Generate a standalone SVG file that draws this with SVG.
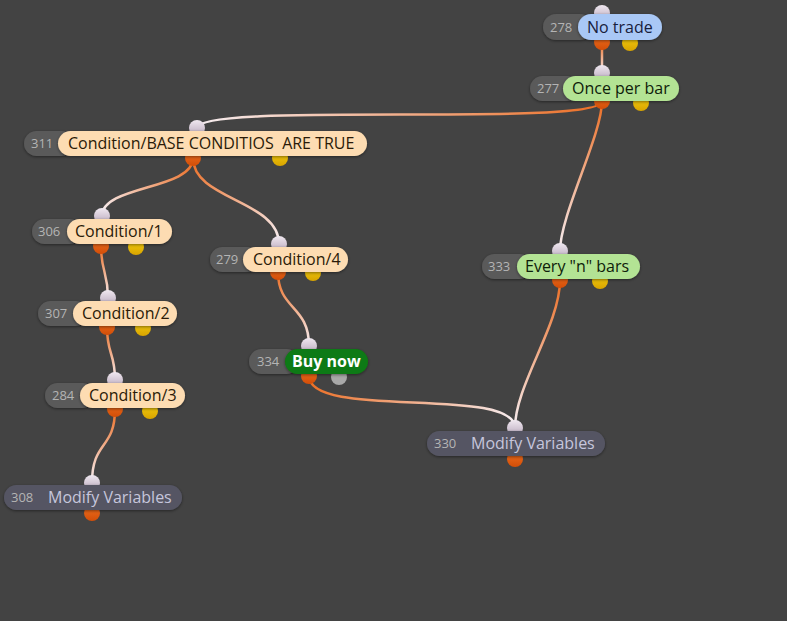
<svg xmlns="http://www.w3.org/2000/svg" width="787" height="621" viewBox="0 0 787 621">
<defs>
<style>
.num{fill:#5a5a5a}
.numt{font-family:"Open Sans","DejaVu Sans",sans-serif;font-size:13px;fill:#b4b4b4}
.labt{font-family:"Open Sans","DejaVu Sans",sans-serif;font-size:16px;white-space:pre}
.cond{fill:#fddcb2}
.condt{fill:#2a1a08}
.blue{fill:#a9c8f6}
.bluet{fill:#18203c}
.green{fill:#b3e394}
.greent{fill:#0e200a}
.buy{fill:#0b7a12}
.buyt{fill:#ffffff;font-weight:bold;font-size:16px}
.mod{fill:#555563}
.modt{fill:#c6c6dc}
.pin{fill:url(#gin)}
.pout{fill:url(#gout)}
.pyel{fill:url(#gyel)}
.pgry{fill:#a8a8a8}
.edge{fill:none;stroke-width:2.5}
.sh{filter:url(#shadow)}
</style>
<filter id="shadow" x="-10%" y="-40%" width="120%" height="180%">
<feDropShadow dx="0" dy="1" stdDeviation="1.5" flood-color="#000" flood-opacity="0.45"/>
</filter>
<linearGradient id="gin" x1="0" y1="0" x2="0" y2="1"><stop offset="0" stop-color="#f0e8f0"/><stop offset="1" stop-color="#b8a8bc"/></linearGradient>
<linearGradient id="gout" x1="0" y1="0" x2="0" y2="1"><stop offset="0" stop-color="#f07020"/><stop offset="1" stop-color="#d24e08"/></linearGradient>
<linearGradient id="gyel" x1="0" y1="0" x2="0" y2="1"><stop offset="0" stop-color="#f6d010"/><stop offset="1" stop-color="#d8a400"/></linearGradient>
<linearGradient id="e1" gradientUnits="userSpaceOnUse" x1="602" y1="42" x2="602" y2="73"><stop offset="0" stop-color="#ec6e24"/><stop offset="1" stop-color="#f6eef2"/></linearGradient>
<linearGradient id="e2" gradientUnits="userSpaceOnUse" x1="602" y1="101" x2="197" y2="128"><stop offset="0" stop-color="#ec6e24"/><stop offset="1" stop-color="#f6eef2"/></linearGradient>
<linearGradient id="e3" gradientUnits="userSpaceOnUse" x1="602" y1="101" x2="560" y2="251"><stop offset="0" stop-color="#ec6e24"/><stop offset="1" stop-color="#f6eef2"/></linearGradient>
<linearGradient id="e4" gradientUnits="userSpaceOnUse" x1="193" y1="158" x2="102" y2="216"><stop offset="0" stop-color="#ec6e24"/><stop offset="1" stop-color="#f6eef2"/></linearGradient>
<linearGradient id="e5" gradientUnits="userSpaceOnUse" x1="193" y1="158" x2="279" y2="244"><stop offset="0" stop-color="#ec6e24"/><stop offset="1" stop-color="#f6eef2"/></linearGradient>
<linearGradient id="e6" gradientUnits="userSpaceOnUse" x1="101" y1="246" x2="108" y2="298"><stop offset="0" stop-color="#ec6e24"/><stop offset="1" stop-color="#f6eef2"/></linearGradient>
<linearGradient id="e7" gradientUnits="userSpaceOnUse" x1="107" y1="327" x2="115" y2="380"><stop offset="0" stop-color="#ec6e24"/><stop offset="1" stop-color="#f6eef2"/></linearGradient>
<linearGradient id="e8" gradientUnits="userSpaceOnUse" x1="115" y1="409" x2="92" y2="483"><stop offset="0" stop-color="#ec6e24"/><stop offset="1" stop-color="#f6eef2"/></linearGradient>
<linearGradient id="e9" gradientUnits="userSpaceOnUse" x1="278" y1="272" x2="309" y2="346"><stop offset="0" stop-color="#ec6e24"/><stop offset="1" stop-color="#f6eef2"/></linearGradient>
<linearGradient id="e10" gradientUnits="userSpaceOnUse" x1="309" y1="376" x2="515" y2="428"><stop offset="0" stop-color="#ec6e24"/><stop offset="1" stop-color="#f6eef2"/></linearGradient>
<linearGradient id="e11" gradientUnits="userSpaceOnUse" x1="560" y1="280" x2="515" y2="428"><stop offset="0" stop-color="#ec6e24"/><stop offset="1" stop-color="#f6eef2"/></linearGradient>
</defs>
<rect x="0" y="0" width="787" height="621" fill="#434343"/>
<g id="connectors">
<path class="edge" stroke="url(#e1)" d="M602,42 C602,58 602,57 602,73"/>
<path class="edge" stroke="url(#e2)" d="M602,101 C602,128 197,101 197,128"/>
<path class="edge" stroke="url(#e3)" d="M602,101 C602,135 560,215 560,251"/>
<path class="edge" stroke="url(#e4)" d="M193,158 C193,190 102,185 102,216"/>
<path class="edge" stroke="url(#e5)" d="M193,158 C193,200 279,200 279,244"/>
<path class="edge" stroke="url(#e6)" d="M101,246 C101,272 108,272 108,298"/>
<path class="edge" stroke="url(#e7)" d="M107,327 C107,355 115,352 115,380"/>
<path class="edge" stroke="url(#e8)" d="M115,409 C115,450 92,440 92,483"/>
<path class="edge" stroke="url(#e9)" d="M278,272 C278,310 309,305 309,346"/>
<path class="edge" stroke="url(#e10)" d="M309,376 C309,420 515,385 515,428"/>
<path class="edge" stroke="url(#e11)" d="M560,280 C560,325 515,385 515,428"/>
</g>
<g id="n278">
<circle class="pin" cx="602" cy="13" r="8"/><circle class="pout" cx="602" cy="42" r="8"/><circle class="pyel" cx="630" cy="43" r="8"/>
<rect class="num sh" x="543" y="14" width="50" height="26" rx="13"/>
<rect class="blue sh" x="578" y="14" width="84" height="26" rx="13"/>
<text class="numt" x="550" y="32">278</text>
<text class="labt bluet" x="587" y="33">No trade</text>
</g>
<g id="n277">
<circle class="pin" cx="602" cy="73" r="8"/><circle class="pout" cx="602" cy="101" r="8"/><circle class="pyel" cx="641" cy="103" r="8"/>
<rect class="num sh" x="530" y="76" width="50" height="25" rx="12.5"/>
<rect class="green sh" x="563" y="76" width="116" height="25" rx="12.5"/>
<text class="numt" x="537" y="93">277</text>
<text class="labt greent" x="572" y="94">Once per bar</text>
</g>
<g id="n311">
<circle class="pin" cx="197" cy="128" r="8"/><circle class="pout" cx="193" cy="158" r="8"/><circle class="pyel" cx="280" cy="158" r="8"/>
<rect class="num sh" x="24" y="131" width="50" height="25" rx="12.5"/>
<rect class="cond sh" x="58" y="131" width="309" height="25" rx="12.5"/>
<text class="numt" x="31" y="148">311</text>
<text class="labt condt" x="68" y="149">Condition/BASE CONDITIOS  ARE TRUE</text>
</g>
<g id="n306">
<circle class="pin" cx="102" cy="216" r="8"/><circle class="pout" cx="101" cy="246" r="8"/><circle class="pyel" cx="136" cy="247" r="8"/>
<rect class="num sh" x="32" y="219" width="50" height="25" rx="12.5"/>
<rect class="cond sh" x="67" y="219" width="105" height="25" rx="12.5"/>
<text class="numt" x="38" y="236">306</text>
<text class="labt condt" x="75" y="237">Condition/1</text>
</g>
<g id="n279">
<circle class="pin" cx="279" cy="244" r="8"/><circle class="pout" cx="278" cy="272" r="8"/><circle class="pyel" cx="313" cy="273" r="8"/>
<rect class="num sh" x="210" y="247" width="50" height="25" rx="12.5"/>
<rect class="cond sh" x="243" y="247" width="105" height="25" rx="12.5"/>
<text class="numt" x="216" y="264">279</text>
<text class="labt condt" x="253" y="265">Condition/4</text>
</g>
<g id="n307">
<circle class="pin" cx="108" cy="298" r="8"/><circle class="pout" cx="107" cy="327" r="8"/><circle class="pyel" cx="143" cy="328" r="8"/>
<rect class="num sh" x="38" y="301" width="50" height="25" rx="12.5"/>
<rect class="cond sh" x="73" y="301" width="104" height="25" rx="12.5"/>
<text class="numt" x="45" y="318">307</text>
<text class="labt condt" x="82" y="319">Condition/2</text>
</g>
<g id="n334">
<circle class="pin" cx="309" cy="346" r="8"/><circle class="pout" cx="309" cy="376" r="8"/><circle class="pgry" cx="339" cy="377" r="8"/>
<rect class="num sh" x="249" y="349" width="50" height="25" rx="12.5"/>
<rect class="buy sh" x="285" y="349" width="83" height="25" rx="12.5"/>
<text class="numt" x="257" y="366">334</text>
<text class="labt buyt" x="292" y="367">Buy now</text>
</g>
<g id="n333">
<circle class="pin" cx="560" cy="251" r="8"/><circle class="pout" cx="560" cy="280" r="8"/><circle class="pyel" cx="600" cy="281" r="8"/>
<rect class="num sh" x="482" y="254" width="50" height="25" rx="12.5"/>
<rect class="green sh" x="517" y="254" width="123" height="25" rx="12.5"/>
<text class="numt" x="488" y="271">333</text>
<text class="labt greent" x="525" y="272">Every "n" bars</text>
</g>
<g id="n284">
<circle class="pin" cx="115" cy="380" r="8"/><circle class="pout" cx="115" cy="409" r="8"/><circle class="pyel" cx="150" cy="411" r="8"/>
<rect class="num sh" x="45" y="383" width="50" height="25" rx="12.5"/>
<rect class="cond sh" x="80" y="383" width="105" height="25" rx="12.5"/>
<text class="numt" x="52" y="400">284</text>
<text class="labt condt" x="89" y="401">Condition/3</text>
</g>
<g id="n330">
<circle class="pin" cx="515" cy="428" r="8"/><circle class="pout" cx="515" cy="459" r="8"/>
<rect class="mod sh" x="427" y="431" width="178" height="25" rx="12.5"/>
<text class="numt" x="434" y="448">330</text>
<text class="labt modt" x="471" y="449">Modify Variables</text>
</g>
<g id="n308">
<circle class="pin" cx="92" cy="483" r="8"/><circle class="pout" cx="92" cy="513" r="8"/>
<rect class="mod sh" x="4" y="485" width="178" height="25" rx="12.5"/>
<text class="numt" x="11" y="502">308</text>
<text class="labt modt" x="48" y="503">Modify Variables</text>
</g>
</svg>
